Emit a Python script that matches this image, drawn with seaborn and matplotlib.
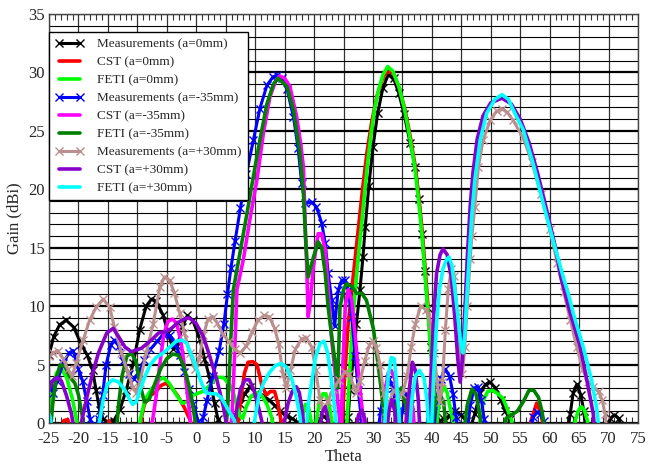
import numpy as np
import pandas as pd
import matplotlib
matplotlib.use("Agg")
import matplotlib.pyplot as plt
import seaborn as sns
from matplotlib.ticker import MultipleLocator

# ---------------- data (theta [deg], gain [dBi]) ----------------
meas_0 = [(-25,5.8),(-24.2,7.4),(-23.2,8.4),(-22.1,8.8),(-20.8,8.2),(-19.6,6.8),(-18.5,5.8),(-17.6,4.5),(-17,2.8),(-16.4,1.1),(-15.8,0.3),(-15,0.1),(-14,0.2),(-13,1.1),(-11.9,2.8),(-10.7,5.1),(-9.6,8),(-8.5,10),(-7.6,10.6),(-6.8,10.4),(-5.6,9.2),(-4.8,7.7),(-3.9,6.3),(-3.2,6.6),(-2.4,8.2),(-1.5,9.2),(-0.6,8.8),(0.6,7.2),(1.4,5.5),(2.3,3.8),(3.1,1.7),(3.7,0.3),(4.3,-1),(6,-1),(6.8,0.6),(7.5,1.6),(8.2,2.5),(9.1,3.1),(10.1,2.6),(11.2,2.4),(12.3,2),(13.3,1.5),(14.3,1),(15.2,0.6),(16.2,0.4),(17.1,0.1),(17.6,-1),(20.3,-1),(21,0.3),(21.7,0.6),(22.4,0.2),(23,-1),(25.4,-1),(25.8,0.5),(26.1,2.8),(26.7,5.7),(27.2,8.5),(27.8,11.4),(28.3,14.2),(28.7,16.8),(29.3,20.3),(30,23.6),(30.8,26.5),(31.7,28.7),(32.6,29.8),(33.5,29.5),(34.4,28.2),(35.3,26.4),(36.3,24),(37.2,21.9),(37.8,19.2),(38.3,16.2),(38.8,13),(39.3,9.8),(39.8,6.5),(40.3,3.3),(40.7,1),(41.2,0.2),(42,0.3),(43,0.6),(44,1),(45,0.7),(45.8,0.2),(46.5,-0.5),(47.3,0.8),(48.2,2.6),(49.1,3.3),(49.9,3.5),(50.8,3),(51.7,2),(52.5,1),(53.3,0.3),(54,-1),(63,-1),(63.5,0.8),(64,2.6),(64.6,3.3),(65.3,2.4),(65.8,1),(66.2,-1),(69.8,-1),(70.3,0.4),(71,0.7),(71.7,0.4),(72.3,-1)]

cst_0 = [(-23,-1),(-22.5,0.2),(-21.8,0.3),(-21.2,-1),(-15.3,-1),(-14.8,0.2),(-14.2,-1),(-9.7,-1),(-9.3,0.5),(-8.8,1.6),(-8,2.3),(-7,2.6),(-6,3.2),(-5.2,3.4),(-4.3,3.1),(-3.1,2.3),(-2,1.3),(-1,0.2),(-0.6,-1),(6.8,-1),(7.2,0.5),(7.7,2.6),(8.2,4.3),(8.8,5.2),(9.6,5.25),(10.3,5),(10.7,4.2),(11.2,3.1),(11.9,2.4),(12.6,2.7),(13.3,2.7),(13.9,1.6),(14.4,0.2),(14.6,-1),(24.5,-1),(24.8,0.3),(25.2,4),(25.8,8.5),(26.4,11.4),(27,14.2),(27.6,17),(28.3,20.3),(29,23.2),(29.8,25.8),(30.7,28),(31.7,29.6),(32.6,30.2),(33.5,29.9),(34.5,28.6),(35.4,26.9),(36.3,24.6),(37.2,21.9),(37.9,18.8),(38.4,16.2),(38.9,13),(39.4,9.6),(39.9,6.2),(40.4,2.8),(40.8,0.3),(41.1,-1),(56.5,-1),(56.9,0.3),(57.8,1.7),(58.6,0.7),(59.1,-1)]

feti_0 = [(-25.2,0.3),(-24.5,2.6),(-23.7,4.3),(-22.9,4.6),(-22,3.9),(-21,2),(-20.3,0.2),(-20,-1),(-10,-1),(-9.5,0.3),(-8.7,2),(-7.6,2.9),(-6.5,3.6),(-5.6,3.9),(-4.6,3.4),(-3.5,2.5),(-2.4,1.7),(-1.4,1.8),(-0.5,2.4),(0.6,2.6),(1.5,2.8),(2.4,3.3),(3.4,3.9),(4.6,3.9),(5.6,3.3),(6.3,2.6),(6.9,1.5),(7.4,0.6),(7.9,0.4),(8.5,1.4),(9.3,2.3),(10.3,2.6),(11.2,2.3),(12,1.6),(12.8,0.5),(13.2,-1),(17.6,-1),(18,0.4),(18.5,1.6),(19,1.5),(19.5,0.2),(19.8,-1),(20.4,0.2),(20.9,1.8),(21.5,2.5),(22,2.5),(22.5,1.7),(23,0.2),(23.3,-1),(25.4,-1),(25.6,0.2),(25.9,3),(26.2,5.7),(26.5,8.5),(27,11.4),(27.5,14.2),(28.1,17.1),(28.6,19.8),(29.1,22.3),(29.7,24.8),(30.3,26.9),(31,28.6),(31.7,29.8),(32.5,30.5),(33.4,30.1),(34.4,28.8),(35.3,27),(36.2,24.6),(37.1,21.9),(37.8,18.8),(38.3,16.2),(38.8,13),(39.3,9.6),(39.8,6.2),(40.3,2.8),(40.75,-0.5),(41.1,1.2),(41.6,2.6),(42.1,3.1),(42.6,2.6),(43.1,1.3),(43.6,0.2),(44,-1),(48,-1),(48.3,0.5),(48.8,2),(49.5,2.7),(50.3,2.8),(51.2,2.5),(52.1,2.1),(52.8,1.2),(53.5,0.3),(53.9,-1),(64,-1),(64.4,0.3),(64.9,1.1),(65.4,1.4),(65.9,1.1),(66.4,0.2),(66.7,-1)]

meas_m35 = [(-25,3.5),(-24.3,2.6),(-23.6,3.6),(-22.6,5.1),(-21.6,6),(-20.9,6.2),(-20,4.6),(-19.3,3.6),(-18.6,1.9),(-18,0.3),(-17.3,-0.5),(-16.5,0.3),(-15.9,2.4),(-15.3,5),(-14.5,6.7),(-13.9,7.1),(-13.2,6.6),(-12.4,5.3),(-11.5,4.2),(-10.6,3.8),(-9.8,4.3),(-8.8,5.4),(-7.8,6.3),(-6.6,7),(-5.6,7.6),(-4.5,7.5),(-3.6,6.8),(-2.8,5.8),(-2,4.4),(-1.2,2.9),(-0.5,1.6),(0.3,0.2),(0.7,-0.5),(1.2,0.5),(1.8,1.9),(2.8,4),(3.9,6.2),(4.7,8.5),(5.3,11),(5.9,13.3),(6.6,15.6),(7.5,18.4),(8.5,21.3),(9.7,24.2),(10.8,26.9),(12,28.9),(13,29.6),(13.7,29.8),(14.5,29.5),(15.4,28.6),(16.5,26.2),(17.3,23.5),(17.9,20.5),(18.5,18.8),(19.6,18.9),(20.4,18.5),(21.3,17.1),(21.9,15.4),(22.4,12.8),(23,10.5),(23.5,8.3),(24.1,11.4),(24.7,12.2),(25.3,12.2),(25.8,11.4),(26.4,9.1),(27,5.7),(27.5,2.8),(28,0.5),(28.3,-1),(30.8,-1),(31.3,1),(32,3),(32.7,3.8),(33.4,3),(34,1),(34.4,-0.5),(35,1),(35.7,2.5),(36.3,1.5),(36.8,-1),(40.3,-1),(40.8,2),(41.5,3.8),(42.3,4.6),(43,4),(43.6,2.5),(44.1,0.5),(44.5,-1),(46,-1),(46.5,1.5),(47.2,3),(47.8,3.1),(48.4,2),(48.9,0.3),(49.2,-1),(56.8,-1),(57.2,0.5),(57.8,0.9),(58.4,0.8),(59,0.2),(59.3,-1)]

cst_m35 = [(-7.8,-1),(-7.4,0.3),(-6.8,2.3),(-6.2,5),(-5.5,7.6),(-4.8,8.7),(-4,8.9),(-3.3,8.5),(-2.6,7),(-2,4.8),(-1.5,2.5),(-1,0.3),(-0.8,-1),(5.8,-1),(6.1,1),(6.4,4.5),(6.7,8.5),(6.9,11.4),(8,14),(9.1,17.4),(10.3,20.8),(11.4,24.8),(12.5,27.9),(13.5,29.3),(14.2,29.7),(15,29.5),(15.9,28.8),(17.05,26.2),(17.7,24),(18.2,21.9),(18.5,17),(18.75,13.5),(19,9.1),(19.4,10.5),(19.8,13),(20.2,14.5),(20.7,16.2),(21.3,16.2),(21.9,14.8),(22.4,11.4),(23,7.1),(23.6,4.2),(24.1,1.4),(24.4,0.2),(24.6,-0.5),(24.9,5),(25.3,10),(25.8,11.4),(26.4,10.5),(27,7.4),(27.5,4.5),(28,2),(28.4,0),(28.6,-1),(31.6,-1),(32,2.5),(32.6,4.3),(33.1,4.5),(33.7,3.8),(34.2,1.5),(34.5,-1),(35.4,-1),(35.8,1.5),(36.3,2.6),(36.8,1.2),(37.1,-1)]

feti_m35 = [(-24.8,-1),(-24.4,1.5),(-23.8,3.8),(-23.1,5),(-22.3,4.8),(-21.4,3.9),(-20.6,3.4),(-20,2.4),(-19.3,0.5),(-19,-1),(-13.6,-1),(-13.2,1.5),(-12.6,4),(-11.8,5.7),(-11,6),(-10.2,5.2),(-9.5,3.2),(-8.8,1.8),(-8,2),(-7,3.4),(-6,4.7),(-5,5.5),(-4,5.9),(-3,5.8),(-2.2,5),(-1.3,3.3),(-0.5,1.2),(0,-0.5),(0.3,-1),(4.9,-1),(5.3,1),(5.6,4),(5.9,7.5),(6.3,11.4),(7.4,14.5),(8.6,17.9),(9.7,21.1),(10.8,24.2),(12,27.3),(13.1,29),(13.9,29.5),(15.4,28.8),(16.5,26.8),(17.6,23.1),(18.2,19.6),(18.6,15.4),(19,12.5),(19.9,14.2),(20.7,15.5),(21.3,15),(21.9,12.8),(22.4,9.9),(23,7.4),(23.6,5.1),(24,3),(24.4,9.9),(25,11.4),(25.5,11.9),(26.4,11.7),(27.2,11.1),(28.1,11.1),(28.9,10.5),(30.1,8),(31.2,3.7),(31.8,1.1),(32.1,-1),(33.6,-1),(34,1.5),(34.8,3),(35.6,1.5),(36.1,-1),(39.9,-1),(40.4,1.5),(41.2,2.6),(42,1.8),(42.5,-1),(45.4,-1),(46,1.5),(46.8,2.9),(47.5,2.5),(48.2,0.5),(48.5,-1),(52.2,-1),(52.6,0.4),(53.5,0.7),(54.5,1),(55.5,1.8),(56.5,2.8),(57.3,2.8),(58.1,2.2),(58.7,1),(59.3,-1)]

meas_p30 = [(-25,5.7),(-24.3,6),(-23.5,6.2),(-22.6,5.5),(-21.8,4.6),(-21.1,4),(-20.4,5.1),(-19.2,7.1),(-18.1,8.8),(-17,9.9),(-15.8,10.6),(-14.7,9.9),(-13.9,8.2),(-12.7,6),(-11.6,4.3),(-10.8,3.1),(-10.2,2.6),(-9.6,3.4),(-8.5,6),(-7.3,8.5),(-6.2,11.6),(-5.4,12.5),(-4.5,12.2),(-3.7,11.1),(-2.8,9.4),(-2,7.7),(-1.1,6),(-0.2,4.6),(0.5,5.5),(1.2,7.5),(2,8.9),(2.8,9.1),(3.5,8.6),(4.5,7.6),(5.5,7),(6.5,6.3),(7.5,6),(8.5,6.6),(9.5,7.8),(10.5,8.8),(11.5,9.2),(12.4,9.1),(13.3,8.1),(14,6.8),(14.7,4.2),(15.3,3),(16,4.5),(16.8,6.3),(17.9,7.2),(18.7,7.3),(19.6,6.5),(20.3,4.5),(21,2),(21.6,1),(22.3,1.8),(23.2,2.9),(24.3,3.7),(25.3,4.4),(26,4.2),(26.7,3.2),(27.2,2.6),(27.8,3.6),(28.6,5.3),(29.4,6.7),(30,7),(30.6,6.4),(31.2,5),(31.8,2.6),(32.3,1),(32.8,1.8),(33.5,2.8),(34.3,2.4),(35,2.5),(35.8,4),(36.5,6.5),(37.2,8.5),(38.1,10),(39,9.7),(39.8,8.5),(40.4,6),(40.9,3.5),(41.3,1.8),(41.8,3.5),(42.3,8),(42.8,11.5),(43.3,13.2),(43.8,12.6),(44.3,9.5),(44.8,6),(45.2,4.2),(45.6,6.5),(46,10),(46.5,14),(46.8,16),(47.3,18.5),(47.9,21.9),(48.7,24.2),(49.9,25.9),(51,26.7),(51.9,26.9),(52.8,26.6),(53.8,25.9),(55.5,24.4),(57,22.3),(58.5,19.6),(60,16.6),(61.3,13.7),(62.4,11.2),(63.5,8.8),(64.6,6.5),(65.6,4.6),(66.5,3.5),(67.4,3.1),(68.3,2.7),(68.9,2),(69.4,0.8),(69.8,-1)]

cst_p30 = [(-25.2,2.6),(-24.5,3.5),(-23.7,3.9),(-22.9,3.6),(-22,2.3),(-21.2,0.8),(-20.6,-1),(-19.8,-1),(-19.4,0.3),(-18.3,2.8),(-17.4,4.6),(-16.6,6),(-15.2,7.7),(-14.1,8.1),(-13.2,7.4),(-12.1,6.5),(-11,6.1),(-9.3,6.4),(-7.6,7.1),(-6.4,7.7),(-5.2,7.8),(-4.2,8.1),(-3.1,8.6),(-2,8.9),(-1.2,9),(0,8.5),(1.2,7.4),(2.3,5.7),(3.5,3.7),(4.6,1.4),(5.1,0),(5.3,-1),(6.3,-1),(6.8,1),(7.5,2.9),(8.3,3.7),(9,3.7),(9.8,2.8),(10.6,1.3),(11.2,0),(11.4,-1),(14.6,-1),(15,0.2),(15.6,1.7),(16.3,2.7),(17,3.1),(17.5,2.6),(18,1),(18.4,-1),(20.9,-1),(21.3,0.8),(21.9,1.4),(22.4,0.3),(22.7,-1),(27.1,-1),(27.5,0.6),(28.1,1.1),(28.6,0.4),(28.9,-1),(32.3,-1),(32.7,1),(33.2,2),(33.7,1),(34,-1),(35.6,-1),(36.1,2.5),(36.7,5.2),(37.2,4.5),(37.7,2),(38,-1),(39.4,-1),(39.8,3.5),(40.3,9),(40.8,12.8),(41.4,14.4),(41.9,14.9),(42.6,14.4),(43.3,12.5),(43.9,9),(44.4,5.5),(44.8,3.5),(45.2,5.5),(45.6,9.5),(46,14),(46.5,18.5),(47,21.5),(47.7,24.3),(48.7,26.3),(50,27.4),(51.9,27.8),(53.5,27.3),(55,26),(56.5,24),(58,21.3),(59.5,18.2),(61,15),(61.9,12.5),(63.5,9.4),(65.2,6.5),(66.3,3.7),(67.4,0.8),(67.7,-1)]

feti_p30 = [(-25.2,1),(-24.8,0.5),(-24.4,-1),(-17,-1),(-16.4,0.2),(-15.8,2),(-15.1,3.3),(-14.2,3.7),(-13.2,3.5),(-12.2,2.9),(-11.4,2.1),(-10.8,1.6),(-10.2,1.8),(-9.5,2.9),(-8.7,4),(-7.8,5),(-6.8,5.6),(-5.6,6),(-4.5,6.5),(-3.4,7),(-2.4,7.1),(-1.6,6.8),(-0.8,5.8),(0.1,4.6),(0.9,3.4),(1.6,2.6),(2.5,2.5),(3.4,2.5),(4.2,2.2),(5,1.5),(5.8,0.8),(6.5,0.2),(6.8,-1),(9.6,-1),(10,0.5),(10.6,2.2),(11.4,3.4),(12.4,4.3),(13.4,4.9),(14.4,5.1),(15.3,4.8),(16.2,3.8),(17,2.2),(17.6,0.6),(17.9,-1),(18.6,-1),(19,1.5),(19.6,3.5),(20.2,5.5),(21,6.8),(21.7,7),(22.3,6),(22.8,4.3),(23.3,2.2),(23.7,0.3),(24,-1),(31.9,-1),(32.2,1.5),(32.6,4),(33.1,5.6),(33.6,5.5),(34,3.5),(34.4,1),(34.6,-1),(36.2,-1),(36.6,2),(37.2,4),(37.9,4.5),(38.7,3.8),(39.2,1.8),(39.5,-1),(39.9,-1),(40.3,4),(40.8,8.5),(41.3,11.5),(41.9,13.2),(42.5,14),(42.9,14.2),(43.4,13.5),(44,11),(44.5,8.8),(44.9,6.8),(45.3,6),(45.6,7.5),(45.9,10.5),(46.2,13),(46.5,15.5),(46.8,17.9),(47.3,20.8),(48.2,24.2),(49.3,26.5),(50.7,27.7),(51.9,28.1),(53,27.7),(53.8,26.8),(55.5,25.1),(57.2,22.2),(58.9,18.8),(60.6,15.6),(62.3,12.5),(63.2,11),(64,9.4),(65.7,6.5),(67.1,3.7),(67.9,1.5),(68.4,-0.5),(68.6,-1)]

labels = ["Measurements (a=0mm)", "CST (a=0mm)", "FETI (a=0mm)",
          "Measurements (a=-35mm)", "CST (a=-35mm)", "FETI (a=-35mm)",
          "Measurements (a=+30mm)", "CST (a=+30mm)", "FETI (a=+30mm)"]
series = [meas_0, cst_0, feti_0, meas_m35, cst_m35, feti_m35, meas_p30, cst_p30, feti_p30]
colors = ["#000000", "#ff0000", "#00ff00", "#0000ff", "#ff00ff", "#008000",
          "#bc8f8f", "#8800cc", "#00ffff"]
is_meas = [True, False, False, True, False, False, True, False, False]

x_ticks = list(range(-25, 80, 5))
y_ticks = list(range(0, 40, 5))

# ---------------- figure ----------------
sns.set_theme(style="white")
plt.rcParams['font.family'] = ['Liberation Serif', 'DejaVu Serif']
plt.rcParams['axes.unicode_minus'] = False

fig = plt.figure(figsize=(6.48, 4.66), dpi=100)
ax = fig.add_axes([49/648, 1-423/466, (638-49)/648, (423-14)/466])

for data, lab, col, meas in zip(series, labels, colors, is_meas):
    df = pd.DataFrame(data, columns=["theta", "gain"])
    if meas:
        sns.lineplot(data=df, x="theta", y="gain", ax=ax, color=col, lw=2.2,
                     marker="x", markersize=6, markeredgewidth=1.0,
                     markeredgecolor=col, label=lab, sort=False, estimator=None)
    else:
        sns.lineplot(data=df, x="theta", y="gain", ax=ax, color=col, lw=2.6,
                     label=lab, sort=False, estimator=None)

ax.set_xlim(-25, 75)
ax.set_ylim(0, 35)
ax.set_xticks(x_ticks)
ax.set_yticks(y_ticks)
ax.xaxis.set_minor_locator(MultipleLocator(1))
ax.yaxis.set_minor_locator(MultipleLocator(1))
ax.grid(which="major", axis="x", color="#333333", lw=0.9)
ax.grid(which="major", axis="y", color="black", lw=1.6)
ax.grid(which="minor", axis="y", color="black", lw=0.8)
ax.set_axisbelow(True)
ax.tick_params(axis="x", which="both", direction="in", top=True, bottom=True,
               labelsize=12, pad=6)
ax.tick_params(axis="x", which="major", length=0)
ax.tick_params(axis="x", which="minor", length=4, width=0.8, color="#333333")
ax.tick_params(axis="y", which="both", length=0, labelsize=12, pad=3)
for s in ax.spines.values():
    s.set_color("#444444")
    s.set_linewidth(1.0)
ax.set_xlabel("Theta", fontsize=12, labelpad=1)
ax.set_ylabel("Gain (dBi)", fontsize=12, labelpad=4)

leg = ax.legend(loc="upper left", bbox_to_anchor=(0.0, 0.956), borderaxespad=0,
                fontsize=9.5, frameon=True, fancybox=False, framealpha=1,
                edgecolor="black", handlelength=2.2, labelspacing=0.44,
                borderpad=0.45, handletextpad=1.0, numpoints=2)
leg.get_frame().set_linewidth(1.0)

fig.savefig("out.png", dpi=100)
